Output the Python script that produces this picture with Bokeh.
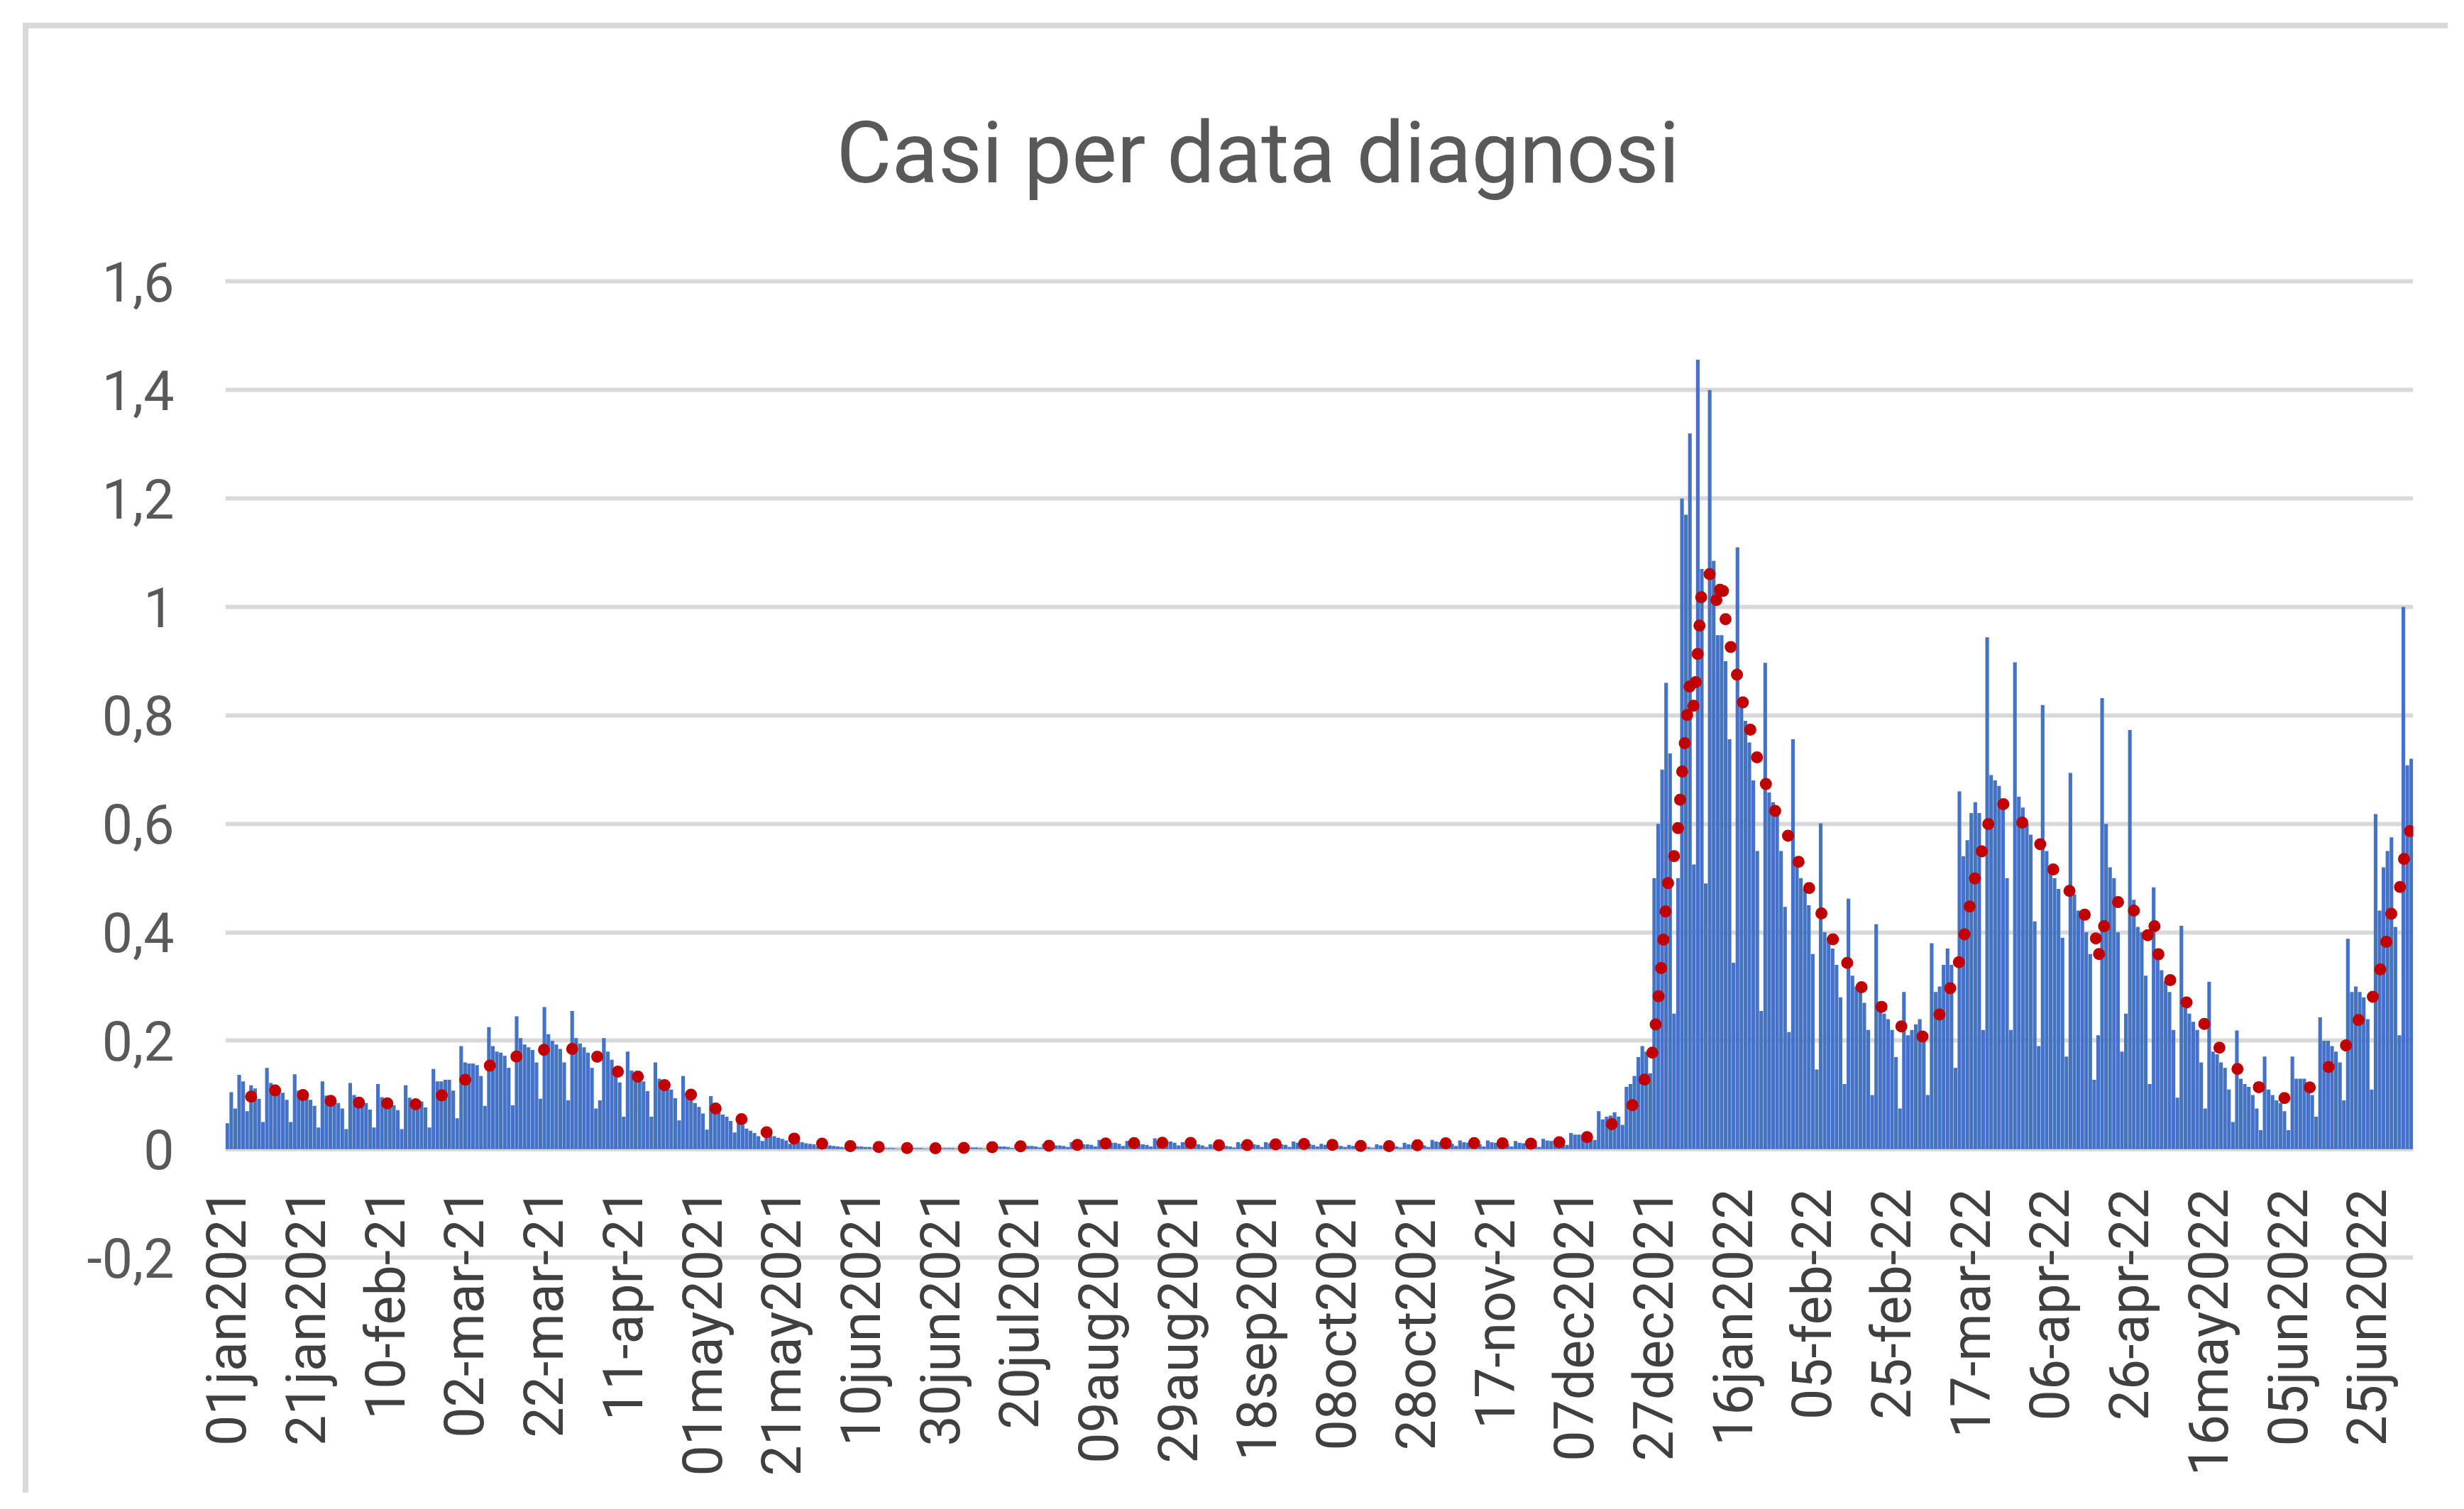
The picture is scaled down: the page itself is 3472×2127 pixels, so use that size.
import math
import pandas as pd
from bokeh.plotting import figure
from bokeh.models import Range1d, FixedTicker, Span, ColumnDataSource
from bokeh.embed import file_html
from bokeh.resources import INLINE

# ---------------- DATA ----------------
title_text = "Casi per data diagnosi"
start_date = "2021-01-01"   # first category; one bar per day

# daily values (Mon..Sun rows after the first 3 days)
cases = [
    0.048, 0.105, 0.075,
    0.137, 0.125, 0.070, 0.118, 0.112, 0.093, 0.050,
    0.150, 0.122, 0.115, 0.110, 0.104, 0.091, 0.050,
    0.138, 0.108, 0.100, 0.096, 0.091, 0.080, 0.040,
    0.125, 0.099, 0.092, 0.089, 0.085, 0.075, 0.037,
    0.122, 0.100, 0.093, 0.090, 0.085, 0.073, 0.040,
    0.120, 0.096, 0.089, 0.086, 0.081, 0.072, 0.037,
    0.118, 0.095, 0.090, 0.088, 0.088, 0.077, 0.040,
    0.148, 0.125, 0.125, 0.128, 0.128, 0.108, 0.057,
    0.190, 0.160, 0.158, 0.158, 0.155, 0.135, 0.080,
    0.225, 0.190, 0.180, 0.178, 0.172, 0.150, 0.081,
    0.245, 0.205, 0.193, 0.188, 0.183, 0.160, 0.093,
    0.262, 0.212, 0.200, 0.193, 0.185, 0.160, 0.090,
    0.255, 0.205, 0.195, 0.188, 0.178, 0.150, 0.075,
    0.090, 0.205, 0.180, 0.165, 0.150, 0.123, 0.060,
    0.180, 0.145, 0.135, 0.130, 0.125, 0.107, 0.060,
    0.160, 0.130, 0.120, 0.117, 0.110, 0.094, 0.053,
    0.135, 0.103, 0.092, 0.085, 0.078, 0.066, 0.036,
    0.098, 0.075, 0.068, 0.064, 0.060, 0.052, 0.031,
    0.060, 0.045, 0.038, 0.034, 0.030, 0.024, 0.015,
    0.034, 0.027, 0.024, 0.021, 0.019, 0.016, 0.010,
    0.020, 0.015, 0.013, 0.011, 0.010, 0.009, 0.005,
    0.010, 0.008, 0.007, 0.006, 0.005, 0.004, 0.002,
    0.008, 0.006, 0.005, 0.005, 0.004, 0.004, 0.002,
    0.004, 0.003, 0.002, 0.002, 0.002, 0.001, 0.001,
    0.003, 0.002, 0.002, 0.002, 0.002, 0.001, 0.001,
    0.003, 0.002, 0.002, 0.002, 0.002, 0.002, 0.001,
    0.004, 0.003, 0.003, 0.003, 0.003, 0.002, 0.001,
    0.007, 0.006, 0.005, 0.005, 0.005, 0.004, 0.002,
    0.009, 0.007, 0.006, 0.006, 0.006, 0.005, 0.003,
    0.010, 0.008, 0.007, 0.007, 0.007, 0.006, 0.004,
    0.013, 0.010, 0.009, 0.009, 0.009, 0.008, 0.005,
    0.017, 0.014, 0.013, 0.012, 0.012, 0.010, 0.006,
    0.015, 0.012, 0.011, 0.010, 0.009, 0.008, 0.005,
    0.020, 0.016, 0.015, 0.014, 0.014, 0.012, 0.007,
    0.013, 0.011, 0.010, 0.009, 0.009, 0.007, 0.004,
    0.009, 0.007, 0.006, 0.006, 0.006, 0.005, 0.003,
    0.013, 0.010, 0.010, 0.009, 0.009, 0.008, 0.004,
    0.013, 0.011, 0.009, 0.009, 0.009, 0.008, 0.004,
    0.014, 0.012, 0.011, 0.010, 0.010, 0.008, 0.005,
    0.010, 0.008, 0.007, 0.007, 0.007, 0.006, 0.004,
    0.008, 0.006, 0.005, 0.005, 0.005, 0.004, 0.002,
    0.009, 0.007, 0.006, 0.006, 0.006, 0.005, 0.003,
    0.012, 0.009, 0.008, 0.008, 0.008, 0.007, 0.004,
    0.017, 0.014, 0.013, 0.012, 0.012, 0.010, 0.006,
    0.016, 0.013, 0.012, 0.011, 0.011, 0.009, 0.005,
    0.016, 0.013, 0.012, 0.011, 0.011, 0.009, 0.005,
    0.015, 0.012, 0.011, 0.010, 0.010, 0.008, 0.004,
    0.019, 0.016, 0.015, 0.014, 0.014, 0.012, 0.008,
    0.030, 0.027, 0.027, 0.026, 0.026, 0.022, 0.017,
    0.070, 0.055, 0.060, 0.062, 0.068, 0.060, 0.045,
    0.115, 0.120, 0.135, 0.170, 0.190, 0.180, 0.140,
    0.500, 0.600, 0.700, 0.860, 0.730, 0.250, 0.500,
    1.200, 1.170, 1.320, 0.525, 1.456, 1.070, 0.490,
    1.400, 1.085, 0.948, 0.948, 0.900, 0.756, 0.344,
    1.110, 0.820, 0.790, 0.750, 0.680, 0.550, 0.255,
    0.897, 0.658, 0.640, 0.630, 0.550, 0.447, 0.216,
    0.756, 0.530, 0.500, 0.480, 0.450, 0.360, 0.147,
    0.601, 0.400, 0.390, 0.370, 0.340, 0.280, 0.120,
    0.462, 0.320, 0.300, 0.290, 0.270, 0.220, 0.100,
    0.415, 0.260, 0.250, 0.240, 0.220, 0.170, 0.075,
    0.290, 0.210, 0.220, 0.230, 0.240, 0.200, 0.100,
    0.380, 0.290, 0.300, 0.340, 0.370, 0.340, 0.150,
    0.660, 0.540, 0.570, 0.620, 0.640, 0.620, 0.220,
    0.944, 0.690, 0.680, 0.670, 0.640, 0.500, 0.220,
    0.898, 0.650, 0.630, 0.600, 0.580, 0.420, 0.190,
    0.819, 0.550, 0.520, 0.500, 0.480, 0.390, 0.171,
    0.694, 0.470, 0.440, 0.430, 0.400, 0.360, 0.128,
    0.210, 0.832, 0.600, 0.520, 0.500, 0.400, 0.180,
    0.250, 0.773, 0.460, 0.410, 0.400, 0.320, 0.120,
    0.483, 0.350, 0.330, 0.310, 0.290, 0.220, 0.095,
    0.412, 0.260, 0.250, 0.235, 0.220, 0.160, 0.075,
    0.309, 0.180, 0.175, 0.160, 0.150, 0.110, 0.050,
    0.219, 0.130, 0.120, 0.115, 0.100, 0.075, 0.035,
    0.171, 0.110, 0.100, 0.090, 0.085, 0.070, 0.035,
    0.171, 0.130, 0.130, 0.130, 0.120, 0.100, 0.060,
    0.243, 0.200, 0.200, 0.190, 0.180, 0.160, 0.090,
    0.388, 0.290, 0.300, 0.290, 0.280, 0.240, 0.110,
    0.618, 0.440, 0.520, 0.550, 0.575, 0.410, 0.210,
    1.000, 0.708, 0.720,
]

ma_period = 7   # moving-average trendline period

tick_labels = [
    "01jan2021", "21jan2021", "10-feb-21", "02-mar-21", "22-mar-21",
    "11-apr-21", "01may2021", "21may2021", "10jun2021", "30jun2021",
    "20jul2021", "09aug2021", "29aug2021", "18sep2021", "08oct2021",
    "28oct2021", "17-nov-21", "07dec2021", "27dec2021", "16jan2022",
    "05-feb-22", "25-feb-22", "17-mar-22", "06-apr-22", "26-apr-22",
    "16may2022", "05jun2022", "25jun2022",
]
tick_every = 20  # one label every 20 categories

y_ticks = [-0.2, 0, 0.2, 0.4, 0.6, 0.8, 1, 1.2, 1.4, 1.6]
y_tick_labels = ["-0,2", "0", "0,2", "0,4", "0,6", "0,8", "1", "1,2", "1,4", "1,6"]

# ---------------- BUILD ----------------
n = len(cases)
days = list(range(n))
ma = pd.Series(cases).rolling(ma_period).mean().to_numpy()
tick_days = [i * tick_every for i in range(len(tick_labels))]

src = ColumnDataSource(dict(x=days, y=cases, ma=ma))

p = figure(width=3417, height=2072, output_backend="svg", toolbar_location=None,
           x_range=Range1d(-0.5, n - 0.5), y_range=Range1d(-0.205, 1.615),
           min_border_left=277, min_border_right=57, min_border_top=345,
           min_border_bottom=336, background_fill_color="white",
           border_fill_color="white", outline_line_color=None)

# chart border: light grey frame on the host element (left/top visible)
p.styles = {
    "margin-left": "32px",
    "margin-top": "32px",
    "border-left": "8px solid #d9d9d9",
    "border-top": "8px solid #d9d9d9",
}

# category axis line at 0
p.add_layout(Span(location=0, dimension="width", line_color="#d9d9d9",
                  line_width=6, level="underlay"))

p.vbar(x="x", top="y", width=0.92, source=src, fill_color="#4472C4",
       line_color=None)
p.line(x="x", y="ma", source=src, line_color="#C00000", line_width=17,
       line_dash="0 40", line_cap="round")

# title
p.title.text = title_text
p.title.align = "left"
p.title.offset = 861
p.title.vertical_align = "top"
p.title.text_font = "Roboto"
p.title.text_font_size = "120px"
p.title.text_font_style = "normal"
p.title.text_color = "#595959"
p.title.standoff = 195

# x axis
xa = p.xaxis[0]
xa.ticker = FixedTicker(ticks=tick_days)
xa.major_label_overrides = {d: lab for d, lab in zip(tick_days, tick_labels)}
xa.major_label_orientation = math.pi / 2
xa.major_label_text_font = "Roboto"
xa.major_label_text_font_size = "77px"
xa.major_label_text_color = "#404040"
xa.major_label_standoff = -101
xa.axis_line_color = None
xa.major_tick_line_color = None
xa.minor_tick_line_color = None
xa.major_tick_out = 0
xa.major_tick_in = 0

# y axis
ya = p.yaxis[0]
ya.ticker = FixedTicker(ticks=y_ticks)
ya.major_label_overrides = {t: s for t, s in zip(y_ticks, y_tick_labels)}
ya.major_label_text_font = "Roboto"
ya.major_label_text_font_size = "77px"
ya.major_label_text_color = "#595959"
ya.major_label_standoff = 72
ya.axis_line_color = None
ya.major_tick_line_color = None
ya.minor_tick_line_color = None
ya.major_tick_out = 0
ya.major_tick_in = 0

p.xgrid.visible = False
p.ygrid[0].ticker = FixedTicker(ticks=y_ticks)
p.ygrid.grid_line_color = "#d9d9d9"
p.ygrid.grid_line_width = 6

open("out.html", "w").write(file_html(p, INLINE, "Casi per data diagnosi"))
